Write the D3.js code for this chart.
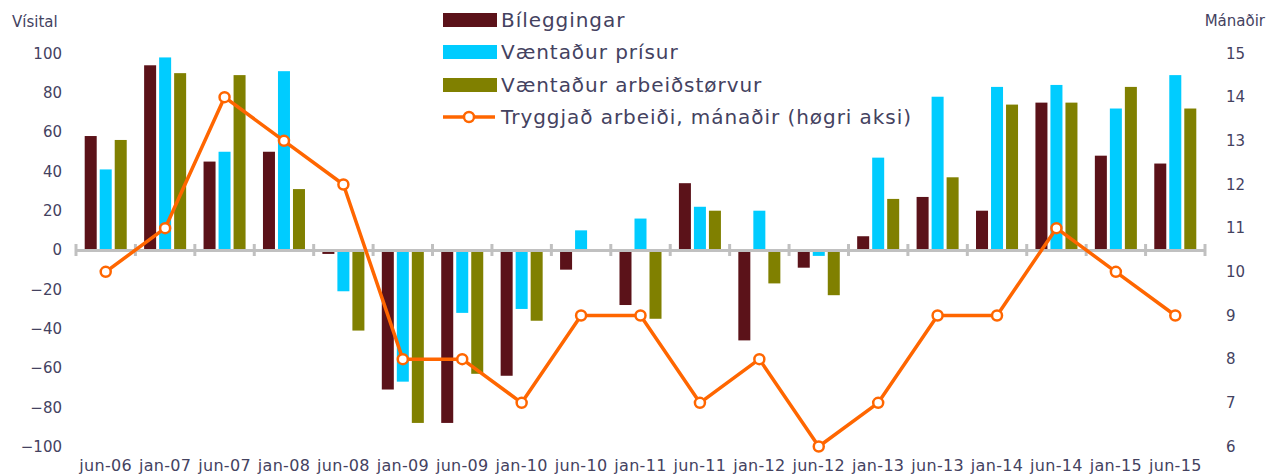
<!DOCTYPE html>
<html>
<head>
<meta charset="utf-8">
<script src="https://cdn.jsdelivr.net/npm/d3@7"></script>
<style>
  body { margin: 0; background: #fff; }
  text { font-family: "DejaVu Sans", Verdana, sans-serif; fill: #44425f; }
</style>
</head>
<body>
<div id="chart"></div>
<script>
const months = ['jun-06', 'jan-07', 'jun-07', 'jan-08', 'jun-08', 'jan-09', 'jun-09', 'jan-10', 'jun-10', 'jan-11',
    'jun-11', 'jan-12', 'jun-12', 'jan-13', 'jun-13', 'jan-14', 'jun-14', 'jan-15', 'jun-15'];

const bileggingar = [58, 94, 45, 50, -2, -71, -88, -64, -10, -28, 34, -46, -9, 7, 27, 20, 75, 48, 44];
const prisur = [41, 98, 50, 91, -21, -67, -32, -30, 10, 16, 22, 20, -3, 47, 78, 83, 84, 72, 89];
const arbeidstorvur = [56, 90, 89, 31, -41, -88, -63, -36, 0, -35, 20, -17, -23, 26, 37, 74, 75, 83, 72];
const manadir = [10, 11, 14, 13, 12, 8, 8, 7, 9, 9, 7, 8, 6, 7, 9, 9, 11, 10, 9];

const leftTicks = [-100, -80, -60, -40, -20, 0, 20, 40, 60, 80, 100];
const rightTicks = [6, 7, 8, 9, 10, 11, 12, 13, 14, 15];

const barSeries = [
    { name: 'Bíleggingar', values: bileggingar, color: '#5b1219' },
    { name: 'Væntaður prísur', values: prisur, color: '#00ccff' },
    { name: 'Væntaður arbeiðstørvur', values: arbeidstorvur, color: '#808000' },
];
const lineName = 'Tryggjað arbeiði, mánaðir (høgri aksi)';
const lineColor = '#ff6600';

const W = 1268, H = 475;
const plot = { left: 76, right: 1205, top: 53.5, bottom: 446.5 };

const svg = d3.select('#chart')
    .append('svg')
    .attr('width', W)
    .attr('height', H);

const x0 = d3.scaleBand()
    .domain(months)
    .range([plot.left, plot.right]);

const inset = 8.7;
const x1 = d3.scaleBand()
    .domain(barSeries.map((s) => s.name))
    .range([inset, x0.bandwidth() - inset])
    .paddingInner(0.2);

const yLeft = d3.scaleLinear()
    .domain([-100, 100])
    .range([plot.bottom, plot.top]);

const yRight = d3.scaleLinear()
    .domain([6, 15])
    .range([plot.bottom, plot.top]);

// bars
barSeries.forEach((s) => {
    svg.append('g')
        .selectAll('rect')
        .data(s.values)
        .enter()
        .append('rect')
        .attr('x', (d, i) => x0(months[i]) + x1(s.name))
        .attr('y', (d) => yLeft(Math.max(0, d)))
        .attr('width', x1.bandwidth())
        .attr('height', (d) => Math.abs(yLeft(d) - yLeft(0)))
        .attr('fill', s.color);
});

// category axis at zero
const xAxis = svg.append('g')
    .attr('transform', `translate(0, ${yLeft(0)})`)
    .call(d3.axisBottom(x0).tickValues([]).tickSizeOuter(0));
xAxis.select('.domain').attr('stroke', '#c0c0c0').attr('stroke-width', 3);

const bounds = months.map((m) => x0(m)).concat([plot.right]);
svg.append('g')
    .selectAll('line')
    .data(bounds)
    .enter()
    .append('line')
    .attr('x1', (d) => d)
    .attr('x2', (d) => d)
    .attr('y1', yLeft(0) - 6)
    .attr('y2', yLeft(0) + 6)
    .attr('stroke', '#c0c0c0')
    .attr('stroke-width', 3);

// category labels along the bottom
svg.append('g')
    .selectAll('text')
    .data(months)
    .enter()
    .append('text')
    .attr('x', (d) => x0(d) + x0.bandwidth() / 2)
    .attr('y', 471)
    .attr('text-anchor', 'middle')
    .style('font-size', '16px')
    .style('letter-spacing', '0.3px')
    .text((d) => d);

// left axis
const leftAxis = svg.append('g')
    .attr('transform', 'translate(62, 0)')
    .call(d3.axisLeft(yLeft).tickValues(leftTicks).tickSize(0).tickPadding(0));
leftAxis.select('.domain').remove();
leftAxis.selectAll('text')
    .style('font-size', '15px')
    .style('font-family', '"DejaVu Sans", Verdana, sans-serif')
    .attr('fill', '#44425f');

// right axis
const rightAxis = svg.append('g')
    .attr('transform', 'translate(1226, 0)')
    .call(d3.axisRight(yRight).tickValues(rightTicks).tickSize(0).tickPadding(0));
rightAxis.select('.domain').remove();
rightAxis.selectAll('text')
    .style('font-size', '15px')
    .style('font-family', '"DejaVu Sans", Verdana, sans-serif')
    .attr('fill', '#44425f');

svg.append('text')
    .attr('x', 12)
    .attr('y', 27)
    .style('font-size', '15px')
    .text('Vísital');

svg.append('text')
    .attr('x', 1265)
    .attr('y', 26)
    .attr('text-anchor', 'end')
    .style('font-size', '15px')
    .text('Mánaðir');

// line on right axis
const line = d3.line()
    .x((d, i) => x0(months[i]) + x0.bandwidth() / 2)
    .y((d) => yRight(d));

svg.append('path')
    .datum(manadir)
    .attr('d', line)
    .attr('fill', 'none')
    .attr('stroke', lineColor)
    .attr('stroke-width', 3.5)
    .attr('stroke-linejoin', 'round');

svg.append('g')
    .selectAll('circle')
    .data(manadir)
    .enter()
    .append('circle')
    .attr('cx', (d, i) => x0(months[i]) + x0.bandwidth() / 2)
    .attr('cy', (d) => yRight(d))
    .attr('r', 5)
    .attr('fill', '#fff')
    .attr('stroke', lineColor)
    .attr('stroke-width', 2.5);

// legend
const legend = svg.append('g').attr('transform', 'translate(443, 0)');
const rowY = [20, 52, 85, 117];

barSeries.forEach((s, i) => {
    legend.append('rect')
        .attr('x', 0)
        .attr('y', rowY[i] - 7)
        .attr('width', 54)
        .attr('height', 14)
        .attr('fill', s.color);
    legend.append('text')
        .attr('x', 58)
        .attr('y', rowY[i] + 7)
        .style('font-size', '20px')
        .style('letter-spacing', '0.95px')
        .text(s.name);
});

legend.append('line')
    .attr('x1', 0)
    .attr('x2', 52)
    .attr('y1', rowY[3])
    .attr('y2', rowY[3])
    .attr('stroke', lineColor)
    .attr('stroke-width', 3.5);
legend.append('circle')
    .attr('cx', 26)
    .attr('cy', rowY[3])
    .attr('r', 5)
    .attr('fill', '#fff')
    .attr('stroke', lineColor)
    .attr('stroke-width', 2.5);
legend.append('text')
    .attr('x', 58)
    .attr('y', rowY[3] + 7)
    .style('font-size', '20px')
    .style('letter-spacing', '0.95px')
    .text(lineName);
</script>
</body>
</html>
